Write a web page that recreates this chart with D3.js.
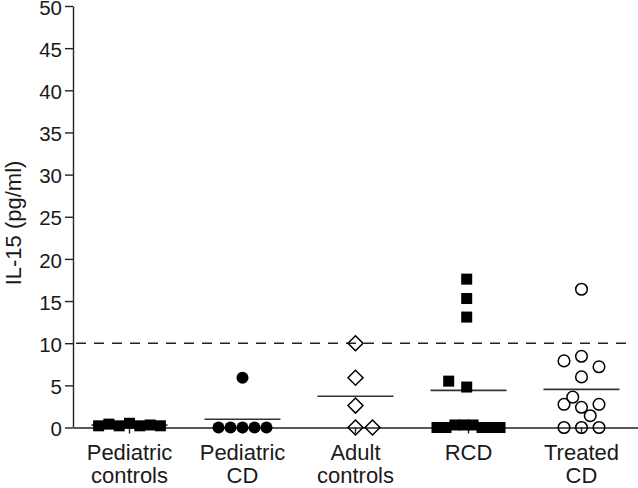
<!DOCTYPE html>
<html>
<head>
<meta charset="utf-8">
<script src="https://cdn.jsdelivr.net/npm/d3@7"></script>
<style>
  html, body { margin: 0; padding: 0; background: #fff; }
  svg { display: block; font-family: "Liberation Sans", Arial, sans-serif; }
</style>
</head>
<body>
<svg id="chart" width="638" height="488"></svg>
<script>
// ---- data ----
const categories = ["Pediatric controls", "Pediatric CD", "Adult controls", "RCD", "Treated CD"];
const categoryLines = [["Pediatric", "controls"], ["Pediatric", "CD"], ["Adult", "controls"], ["RCD", ""], ["Treated", "CD"]];
const yTicks = [0, 5, 10, 15, 20, 25, 30, 35, 40, 45, 50];
const threshold = 10;

const pedControlsValues = [0.2, 0.4, 0.2, 0.5, 0.2, 0.3, 0.2];
const pedControlsSlots  = [-3, -2, -1, 0, 1, 2, 3];

const pedCDValues = [0, 0, 0, 0, 0, 5.9];
const pedCDSlots  = [-2, -1, 0, 1, 2, 0];

const adultControlsValues = [10, 5.9, 2.6, 0, 0];
const adultControlsSlots  = [0, 0, 0, 0, 1];

const rcdValues = [17.6, 15.3, 13.1, 5.5, 4.8, 0, 0, 0.3, 0.3, 0.3, 0, 0, 0];
const rcdSlots  = [-0.2, -0.2, -0.2, -2.2, -0.2, -3.5, -2.5, -1.5, -0.5, 0.5, 1.5, 2.5, 3.5];

const treatedCDValues = [16.4, 7.9, 8.45, 7.2, 6.0, 3.6, 2.75, 2.4, 2.75, 1.4, 0, 0, 0];
const treatedCDSlots  = [0, -1, 0, 1, 0, -0.5, -1, 0, 1, 0.5, -1, 0, 1];

const groups = [
  { cat: categories[0], values: pedControlsValues, slots: pedControlsSlots, marker: "square", step: 10.3 },
  { cat: categories[1], values: pedCDValues, slots: pedCDSlots, marker: "circleFilled", step: 12 },
  { cat: categories[2], values: adultControlsValues, slots: adultControlsSlots, marker: "diamond", step: 17 },
  { cat: categories[3], values: rcdValues, slots: rcdSlots, marker: "square", step: 9 },
  { cat: categories[4], values: treatedCDValues, slots: treatedCDSlots, marker: "circleOpen", step: 17.5 }
];

// ---- layout ----
const svg = d3.select("#chart");
const mLeft = 73, mRight = 638, mTop = 6, mBottom = 427.5;

const x = d3.scaleBand().domain(categories).range([mLeft, mRight]).padding(0);
const y = d3.scaleLinear().domain([0, 50]).range([mBottom, mTop]);

// y axis
const yAxis = svg.append("g")
  .attr("transform", `translate(${mLeft},0)`)
  .call(d3.axisLeft(y).tickValues(yTicks).tickSize(8).tickSizeOuter(0).tickPadding(3));
yAxis.select(".domain").attr("stroke", "#222").attr("stroke-width", 1.4);
yAxis.selectAll(".tick line").attr("stroke", "#222").attr("stroke-width", 1.4);
yAxis.selectAll(".tick text").attr("font-size", 20.5).attr("fill", "#1a1a1a").attr("dy", "0.4em")
  .attr("font-family", "Liberation Sans, Arial, sans-serif");

// x axis
const xAxis = svg.append("g")
  .attr("transform", `translate(0,${mBottom})`)
  .call(d3.axisBottom(x).tickSize(6).tickSizeOuter(0).tickFormat(""));
xAxis.select(".domain").attr("stroke", "#222").attr("stroke-width", 1.4);
xAxis.selectAll(".tick line").attr("stroke", "#222").attr("stroke-width", 1.4);

// category labels
categories.forEach((c, i) => {
  const cx = x(c) + x.bandwidth() / 2;
  const t = svg.append("text")
    .attr("text-anchor", "middle")
    .attr("font-size", 22)
    .attr("fill", "#1a1a1a");
  t.append("tspan").attr("x", cx).attr("y", 460).text(categoryLines[i][0]);
  if (categoryLines[i][1]) t.append("tspan").attr("x", cx).attr("y", 483).text(categoryLines[i][1]);
});

// y axis title
svg.append("text")
  .attr("transform", `translate(21,223) rotate(-90)`)
  .attr("text-anchor", "middle")
  .attr("font-size", 22)
  .attr("fill", "#1a1a1a")
  .text("IL-15 (pg/ml)");

// threshold dashed line
svg.append("line")
  .attr("x1", mLeft + 3).attr("x2", 627)
  .attr("y1", y(threshold)).attr("y2", y(threshold))
  .attr("stroke", "#222").attr("stroke-width", 1.6)
  .attr("stroke-dasharray", "10,8");

// mean lines
const meanHalf = 38;
groups.forEach(g => {
  const cx = x(g.cat) + x.bandwidth() / 2;
  const m = d3.mean(g.values);
  svg.append("line")
    .attr("x1", cx - meanHalf).attr("x2", cx + meanHalf)
    .attr("y1", y(m)).attr("y2", y(m))
    .attr("stroke", "#333").attr("stroke-width", 1.6);
});

// points
groups.forEach(g => {
  const cx = x(g.cat) + x.bandwidth() / 2;
  const pts = g.values.map((v, i) => ({ px: cx + g.slots[i] * g.step, py: y(v) }));
  const sel = svg.append("g").selectAll("g").data(pts).join("g")
    .attr("transform", d => `translate(${d.px},${d.py})`);
  if (g.marker === "square") {
    sel.append("rect").attr("x", -5.5).attr("y", -5.5).attr("width", 11).attr("height", 11).attr("fill", "#000");
  } else if (g.marker === "circleFilled") {
    sel.append("circle").attr("r", 6).attr("fill", "#000");
  } else if (g.marker === "diamond") {
    sel.append("path").attr("d", "M0,-7.5L7.5,0L0,7.5L-7.5,0Z")
      .attr("fill", "none").attr("stroke", "#000").attr("stroke-width", 1.5);
  } else {
    sel.append("circle").attr("r", 5.8)
      .attr("fill", "none").attr("stroke", "#000").attr("stroke-width", 1.5);
  }
});
</script>
</body>
</html>
